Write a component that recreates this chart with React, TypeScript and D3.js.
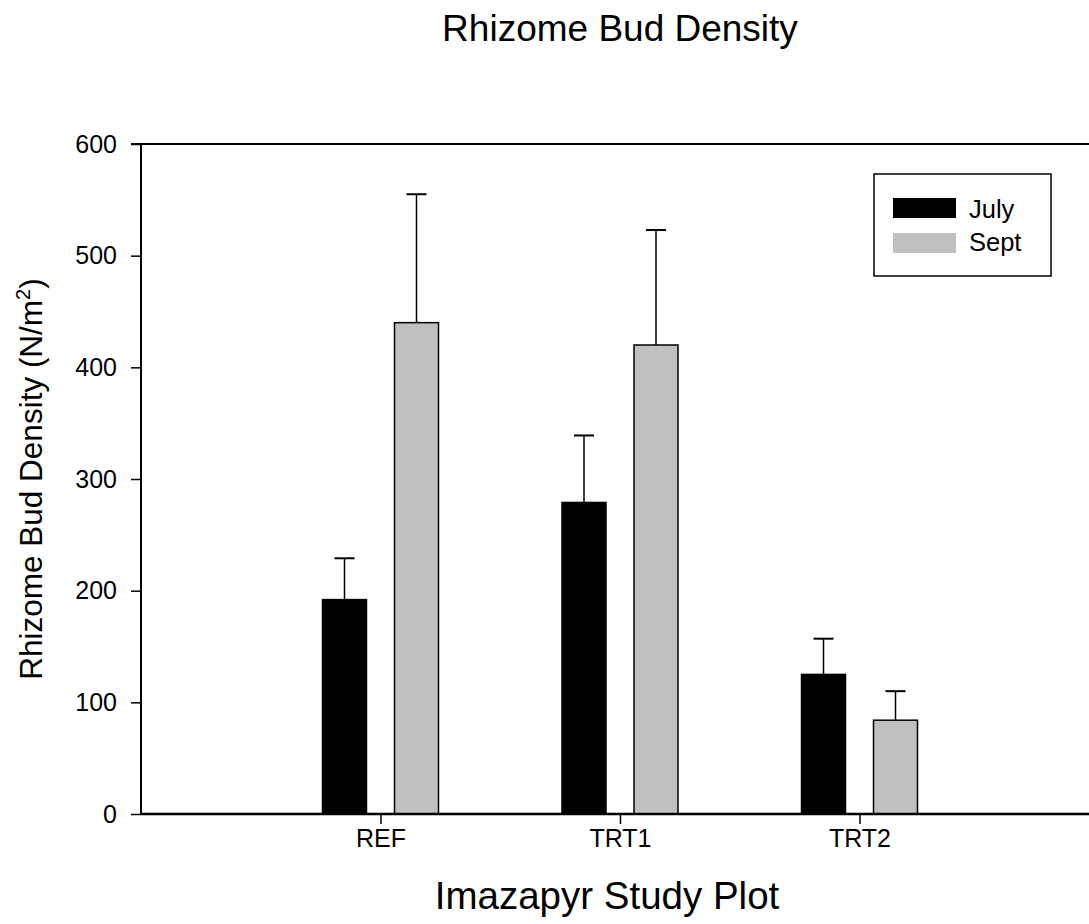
import React, { useEffect, useRef } from "react";
import * as d3 from "d3";

// chart data
const plots = ["REF", "TRT1", "TRT2"];
const seasons = ["July", "Sept"];
const julyMeans = [192, 279, 125];
const julyErr = [37, 60, 32];
const septMeans = [440, 420, 84];
const septErr = [115, 103, 26];
const yTicks = [0, 100, 200, 300, 400, 500, 600];
const colors = ["#000000", "#c0c0c0"];

const W = 1089;
const H = 924;
const FONT = "'Liberation Sans', Arial, sans-serif";

export default function App() {
  const ref = useRef<SVGSVGElement>(null);

  useEffect(() => {
    const svg = d3.select(ref.current);
    svg.selectAll("*").remove();

    const left = 141;
    const top = 144;
    const bottom = 814;

    let y = d3.scaleLinear().domain([0, 600]).range([bottom, top]);
    let x = d3.scalePoint().domain(plots).range([left, 1099]).padding(1);
    let xs = d3.scaleBand().domain(seasons).range([-58, 58]).paddingInner(28 / 72);

    const rows = plots.map((p, i) => [
      { plot: p, season: "July", v: julyMeans[i], e: julyErr[i] },
      { plot: p, season: "Sept", v: septMeans[i], e: septErr[i] },
    ]).flat();

    // error bars (upper only)
    const eb = svg.append("g");
    rows.forEach((d) => {
      let cx = x(d.plot)! + xs(d.season)! + xs.bandwidth() / 2;
      eb.append("line")
        .attr("x1", cx).attr("x2", cx)
        .attr("y1", y(d.v)).attr("y2", y(d.v + d.e))
        .attr("stroke", "black").attr("stroke-width", 1.5);
      eb.append("line")
        .attr("x1", cx - 10).attr("x2", cx + 10)
        .attr("y1", y(d.v + d.e)).attr("y2", y(d.v + d.e))
        .attr("stroke", "black").attr("stroke-width", 2);
    });

    // bars
    svg.append("g")
      .selectAll("rect")
      .data(rows)
      .enter()
      .append("rect")
      .attr("x", (d) => x(d.plot)! + xs(d.season)!)
      .attr("width", xs.bandwidth())
      .attr("y", (d) => y(d.v))
      .attr("height", (d) => y(0) - y(d.v))
      .attr("fill", (d) => colors[seasons.indexOf(d.season)])
      .attr("stroke", "black")
      .attr("stroke-width", 1.5);

    // Y axis
    const ya = svg.append("g")
      .attr("transform", `translate(${left},0)`)
      .call(d3.axisLeft(y).tickValues(yTicks).tickSize(10).tickPadding(14));
    ya.select(".domain").attr("stroke-width", 2).attr("d", `M-10,${top}H0V${bottom}`);
    ya.selectAll(".tick line").attr("stroke-width", 1.5);
    ya.selectAll("text").attr("font-size", 25).attr("font-family", FONT).attr("fill", "black");

    // top frame line
    svg.append("line")
      .attr("x1", left).attr("x2", W).attr("y1", top).attr("y2", top)
      .attr("stroke", "black").attr("stroke-width", 2);

    // X axis
    const xa = svg.append("g")
      .attr("transform", `translate(0,${bottom})`)
      .call(d3.axisBottom(x).tickSize(10).tickPadding(5));
    xa.select(".domain").attr("stroke-width", 2.5).attr("d", `M${left},0H${W}`);
    xa.selectAll(".tick line").attr("stroke-width", 1.5);
    xa.selectAll("text").attr("font-size", 25).attr("font-family", FONT).attr("fill", "black");

    // titles
    svg.append("text")
      .attr("x", 620).attr("y", 41)
      .attr("text-anchor", "middle")
      .attr("font-family", FONT).attr("font-size", 37)
      .text("Rhizome Bud Density");

    svg.append("text")
      .attr("x", 607).attr("y", 909)
      .attr("text-anchor", "middle")
      .attr("font-family", FONT).attr("font-size", 38.5)
      .text("Imazapyr Study Plot");

    const yt = svg.append("text")
      .attr("transform", `translate(42,479) rotate(-90)`)
      .attr("text-anchor", "middle")
      .attr("font-family", FONT).attr("font-size", 31.5);
    yt.append("tspan").text("Rhizome Bud Density (N/m");
    yt.append("tspan").attr("dy", -12).attr("font-size", 20).text("2");
    yt.append("tspan").attr("dy", 12).text(")");

    // legend
    const lg = svg.append("g");
    lg.append("rect")
      .attr("x", 874).attr("y", 174).attr("width", 177).attr("height", 102)
      .attr("fill", "white").attr("stroke", "black").attr("stroke-width", 1.5);
    seasons.forEach((s, i) => {
      lg.append("rect")
        .attr("x", 893).attr("y", 198 + i * 35).attr("width", 63).attr("height", 20)
        .attr("fill", colors[i]);
      lg.append("text")
        .attr("x", 969).attr("y", 218 + i * 33)
        .attr("font-family", FONT).attr("font-size", 25.5)
        .text(s);
    });
  }, []);

  return (
    <svg
      ref={ref}
      width={W}
      height={H}
      style={{ position: "absolute", left: 0, top: 0, background: "white" }}
    />
  );
}
